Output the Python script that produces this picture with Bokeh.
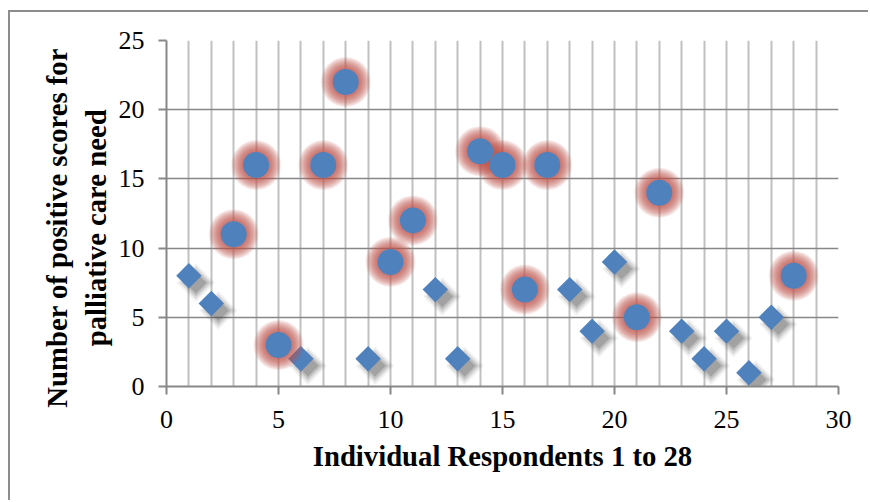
from bokeh.plotting import figure
from bokeh.embed import file_html
from bokeh.resources import INLINE
from bokeh.models import Range1d, FixedTicker, SingleIntervalTicker
import numpy as np

# Respondents without highlight (diamonds)
diamond_x = [1, 2, 6, 9, 12, 13, 18, 19, 20, 23, 24, 25, 26, 27]
diamond_y = [8, 6, 2, 2, 7, 2, 7, 4, 9, 4, 2, 4, 1, 5]
# Respondents highlighted (circles with red glow)
circle_x = [3, 4, 5, 7, 8, 10, 11, 14, 15, 16, 17, 21, 22, 28]
circle_y = [11, 16, 3, 16, 22, 9, 12, 17, 16, 7, 16, 5, 14, 8]

x_ticks = [0, 5, 10, 15, 20, 25, 30]
y_ticks = [0, 5, 10, 15, 20, 25]
x_title = "Individual Respondents 1 to 28"
y_title = "Number of positive scores for    \npalliative care need    "

BLUE = "#4F81BD"
RED = "#C0504D"
FONT = "Liberation Serif"

OX, OY = 10, 12  # canvas origin after outer border

p = figure(width=870 - OX, height=502 - OY, x_range=Range1d(0, 30), y_range=Range1d(0, 25),
           output_backend="svg", toolbar_location=None,
           min_border_left=166 - OX, min_border_right=32, min_border_top=40 - OY,
           min_border_bottom=116)
p.styles = {"border-top": "2px solid #8c8c8c", "border-left": "2px solid #8c8c8c",
            "margin-top": "10px", "margin-left": "8px"}
p.outline_line_color = None
p.background_fill_color = "white"
p.border_fill_color = "white"

p.xaxis.ticker = FixedTicker(ticks=x_ticks)
p.yaxis.ticker = FixedTicker(ticks=y_ticks)
p.xgrid.ticker = SingleIntervalTicker(interval=1)
p.xgrid.grid_line_color = "#c0c0c0"
p.xgrid.grid_line_width = 2
p.ygrid.grid_line_color = "#878787"
p.ygrid.grid_line_width = 1.6

for ax in (p.xaxis, p.yaxis):
    ax.axis_line_color = "#878787"
    ax.axis_line_width = 2
    ax.major_tick_line_color = "#878787"
    ax.major_tick_line_width = 2
    ax.major_tick_in = 0
    ax.major_tick_out = 8
    ax.minor_tick_line_color = None
    ax.major_label_text_font = FONT
    ax.major_label_text_font_size = "26px"
    ax.major_label_text_color = "black"
    ax.axis_label_text_font = FONT
    ax.axis_label_text_font_size = "28.7px"
    ax.axis_label_text_font_style = "bold"
    ax.axis_label_text_color = "black"

p.xaxis.axis_label = x_title
p.yaxis.axis_label = y_title
p.xaxis.major_label_standoff = 16
p.yaxis.major_label_standoff = 14
p.xaxis.axis_label_standoff = 9
p.yaxis.axis_label_standoff = 4

# diamond shadows (offset down-right in screen space)
dx = 7 * 30 / 672
dy = -7 * 25 / 346
sx = np.array(diamond_x) + dx
sy = np.array(diamond_y) + dy
for s, a in [(27, 0.08), (23, 0.12), (19, 0.16), (15, 0.22)]:
    p.scatter(sx, sy, marker="square", angle=np.pi / 4, size=s,
              fill_color="#3a3a3a", fill_alpha=a, line_color=None)

p.scatter(diamond_x, diamond_y, marker="square", angle=np.pi / 4, size=18,
          fill_color=BLUE, line_color=None)

# red glow around highlighted circles
for s in range(50, 26, -2):
    p.scatter(circle_x, circle_y, marker="circle", size=s,
              fill_color=RED, fill_alpha=0.11, line_color=None)

p.scatter(circle_x, circle_y, marker="circle", size=26,
          fill_color=BLUE, line_color=None)

open("out.html", "w").write(file_html(p, INLINE))
